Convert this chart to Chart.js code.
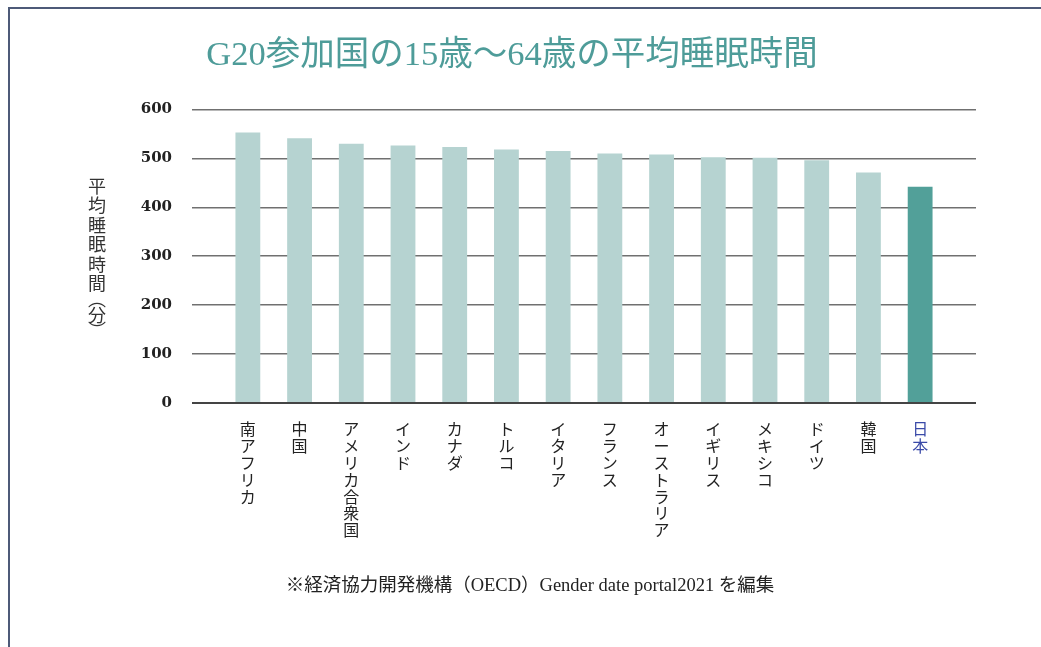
<!DOCTYPE html>
<html>
<head>
<meta charset="utf-8">
<script src="https://cdn.jsdelivr.net/npm/chart.js@4/dist/chart.umd.min.js"></script>
<style>
  html, body { margin: 0; padding: 0; background: #fff; overflow: hidden; }
  #frame { position: absolute; left: 8px; top: 7px; right: 0; bottom: 0;
           border-left: 2px solid #4d5a78; border-top: 2px solid #4d5a78; }
  #c { position: absolute; left: 0; top: 0; }
</style>
</head>
<body>
<div id="frame"></div>
<canvas id="c" width="1041" height="647"></canvas>
<script>
// ---- data ----
const TITLE = 'G20参加国の15歳～64歳の平均睡眠時間';
const Y_TITLE = '平均睡眠時間（分）';
const FOOTNOTE = '※経済協力開発機構（OECD）Gender date portal2021 を編集';
const CATEGORIES = ['南アフリカ', '中国', 'アメリカ合衆国', 'インド', 'カナダ', 'トルコ', 'イタリア',
                    'フランス', 'オーストラリア', 'イギリス', 'メキシコ', 'ドイツ', '韓国', '日本'];
const SLEEP_MINUTES = [553, 541, 530, 526, 523, 518, 515, 510, 508, 502, 501, 496, 471, 442];
const Y_TICKS = [0, 100, 200, 300, 400, 500, 600];
const HIGHLIGHT = '日本';

// ---- styles ----
const SERIF = "'Liberation Serif', 'Noto Sans CJK JP', serif";
const CJK = "'Noto Sans CJK JP', sans-serif";
const BAR = '#b6d3d1';
const BAR_HI = '#52a099';
const GRID = '#707070';

const yMin = Y_TICKS[0], yMax = Y_TICKS[Y_TICKS.length - 1], yStep = Y_TICKS[1] - Y_TICKS[0];
const gridColor = ctx => (ctx.tick && ctx.tick.value === 0) ? '#444' : GRID;
const gridWidth = ctx => (ctx.tick && ctx.tick.value === 0) ? 2 : 1.5;

const extraText = {
  id: 'extraText',
  afterDraw(chart) {
    const ctx = chart.ctx;
    ctx.save();
    // vertical y-axis title
    ctx.fillStyle = '#333';
    ctx.font = "18px " + CJK;
    ctx.textAlign = 'center';
    ctx.textBaseline = 'middle';
    const vmap = { '（': '︵', '）': '︶' };
    let y = 186;
    for (const ch of Array.from(Y_TITLE)) {
      const g = vmap[ch] || ch;
      const h = vmap[ch] ? 12 : 19.5;
      ctx.fillText(g, 97, y + (vmap[ch] ? -4 : 0));
      y += h;
    }
    // footnote
    ctx.font = "18.5px " + SERIF;
    ctx.fillStyle = '#222';
    ctx.textAlign = 'center';
    ctx.fillText(FOOTNOTE, 530, 586);
    ctx.restore();
  }
};

new Chart(document.getElementById('c'), {
  type: 'bar',
  data: {
    labels: CATEGORIES.map(s => Array.from(s)),
    datasets: [{
      data: SLEEP_MINUTES,
      backgroundColor: CATEGORIES.map(c => c === HIGHLIGHT ? BAR_HI : BAR),
      borderWidth: 0,
      barPercentage: 0.48,
      categoryPercentage: 1.0
    }]
  },
  options: {
    responsive: false,
    animation: false,
    devicePixelRatio: 1,
    layout: { padding: { left: 0, right: 17, top: 0, bottom: 0 } },
    plugins: {
      legend: { display: false },
      tooltip: { enabled: false },
      title: {
        display: true,
        text: TITLE,
        color: '#4e9c99',
        font: { family: SERIF, size: 34.5, weight: 'normal', lineHeight: 1.2 },
        padding: { top: 35, bottom: 33 }
      }
    },
    scales: {
      x: {
        grid: { display: false },
        border: { display: false },
        ticks: {
          maxRotation: 0, minRotation: 0, autoSkip: false, padding: 10,
          font: { family: CJK, size: 16, lineHeight: 1.05 },
          color: ctx => CATEGORIES[ctx.index] === HIGHLIGHT ? '#3a4aa8' : '#222'
        },
        afterFit: s => { s.height = 244; }
      },
      y: {
        min: yMin, max: yMax,
        border: { display: false },
        grid: { color: gridColor, lineWidth: gridWidth, drawTicks: true, tickLength: 30 },
        ticks: { stepSize: yStep, padding: 20, color: '#222',
                 font: { family: "'DejaVu Serif', serif", size: 15, weight: 'bold' } },
        afterFit: s => { s.width = 222; }
      },
      y2: {
        position: 'right',
        min: yMin, max: yMax,
        border: { display: false },
        grid: { color: gridColor, lineWidth: gridWidth, drawOnChartArea: false, drawTicks: true, tickLength: 30 },
        ticks: { stepSize: yStep, display: false },
        afterFit: s => { s.width = 78; }
      }
    }
  },
  plugins: [extraText]
});
</script>
</body>
</html>
